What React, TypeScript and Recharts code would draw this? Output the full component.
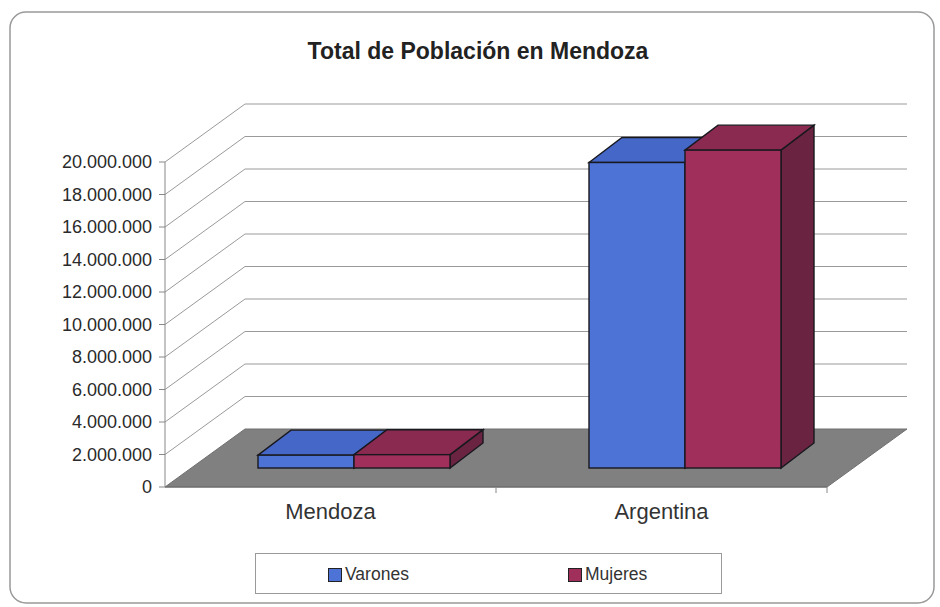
import React from 'react';
import { BarChart, Bar, XAxis, YAxis, CartesianGrid } from 'recharts';

const categories = ['Mendoza', 'Argentina'];
const varones = [790000, 18800000];
const mujeres = [820000, 19560000];
const seriesNames = ['Varones', 'Mujeres'];
const yTicks = [0, 2000000, 4000000, 6000000, 8000000, 10000000, 12000000, 14000000, 16000000, 18000000, 20000000];

const data = categories.map((name, i) => ({ name, varones: varones[i], mujeres: mujeres[i] }));

const W = 940;
const H = 607;
const PLOT_LEFT = 165;
const PLOT_RIGHT = 827;
const PLOT_TOP = 162;
const PLOT_BOTTOM = 487;
const Y_AXIS_W = 110;
const X_AXIS_H = 40;
const BAND = (PLOT_RIGHT - PLOT_LEFT) / categories.length;

// oblique depth of the walls
const WALL_DX = 80;
const WALL_DY = -58;
// bars sit partway back on the floor
const BAR_SX = 23;
const BAR_SY = -19;
const BAR_DX = 33;
const BAR_DY = -25;

const FONT = '"Liberation Sans", Arial, Helvetica, sans-serif';

const colors = {
  varones: { front: '#4d73d6', top: '#4467c8', side: '#3a57a8' },
  mujeres: { front: '#a02f5c', top: '#8a2a50', side: '#6a2442' },
};

const fmt = (v: number) => String(v).replace(/\B(?=(\d{3})+(?!\d))/g, '.');

function WallLine(props: any) {
  const { x1, x2, y1 } = props;
  const y = y1;
  if (Math.abs(y - PLOT_BOTTOM) < 1) {
    // floor
    return (
      <polygon
        points={`${x1},${y} ${x1 + WALL_DX},${y + WALL_DY} ${x2 + WALL_DX},${y + WALL_DY} ${x2},${y}`}
        fill="#808080"
        stroke="#707070"
        strokeWidth={1}
      />
    );
  }
  return (
    <g>
      <line x1={x1} y1={y} x2={x1 + WALL_DX} y2={y + WALL_DY} stroke="#9a9a9a" strokeWidth={1} />
      <line x1={x1 + WALL_DX} y1={y + WALL_DY} x2={x2 + WALL_DX} y2={y + WALL_DY} stroke="#9a9a9a" strokeWidth={1} />
    </g>
  );
}

const makeBox = (c: { front: string; top: string; side: string }) => (props: any) => {
  const { x, y, width, height } = props;
  if (width == null || height == null) return null;
  const fx = x + BAR_SX;
  const fy = y + BAR_SY;
  const stroke = '#18181f';
  return (
    <g>
      <polygon
        points={`${fx + width},${fy} ${fx + width + BAR_DX},${fy + BAR_DY} ${fx + width + BAR_DX},${fy + height + BAR_DY} ${fx + width},${fy + height}`}
        fill={c.side}
        stroke={stroke}
        strokeWidth={1.4}
      />
      <polygon
        points={`${fx},${fy} ${fx + BAR_DX},${fy + BAR_DY} ${fx + width + BAR_DX},${fy + BAR_DY} ${fx + width},${fy}`}
        fill={c.top}
        stroke={stroke}
        strokeWidth={1.4}
      />
      <rect x={fx} y={fy} width={width} height={height} fill={c.front} stroke={stroke} strokeWidth={1.4} />
    </g>
  );
};

function CategoryTick(props: any) {
  const { x, y, payload } = props;
  return (
    <g>
      <line x1={x + BAND / 2} y1={y} x2={x + BAND / 2} y2={y + 6} stroke="#888" />
      <text x={x} y={y + 32} textAnchor="middle" fontSize={22} fill="#333" fontFamily={FONT}>
        {payload.value}
      </text>
    </g>
  );
}

function LegendBox() {
  const items = [
    { name: seriesNames[0], color: colors.varones.front },
    { name: seriesNames[1], color: colors.mujeres.front },
  ];
  return (
    <div
      style={{
        position: 'absolute',
        left: 255,
        top: 553,
        width: 465,
        height: 39,
        border: '1px solid #9a9a9a',
        fontFamily: FONT,
        fontSize: 17.5,
        color: '#333',
      }}
    >
      {items.map((it, i) => (
        <div
          key={it.name}
          style={{ position: 'absolute', left: i === 0 ? 72 : 312, top: 10, display: 'flex', alignItems: 'center' }}
        >
          <span
            style={{
              display: 'inline-block',
              width: 12,
              height: 12,
              background: it.color,
              border: '1px solid #222',
              marginRight: 3,
            }}
          />
          <span>{it.name}</span>
        </div>
      ))}
    </div>
  );
}

export default function App() {
  return (
    <div style={{ position: 'absolute', left: 0, top: 0, width: W, height: H, background: '#fff' }}>
      <svg width={W} height={H} style={{ position: 'absolute', left: 0, top: 0 }}>
        <rect x={10} y={12} width={924} height={591} rx={16} fill="#fff" stroke="#999" strokeWidth={1.5} />
      </svg>
      <div
        style={{
          position: 'absolute',
          left: 0,
          width: 956,
          top: 40,
          textAlign: 'center',
          fontFamily: FONT,
          fontWeight: 'bold',
          fontSize: 23,
          lineHeight: 1,
          color: '#222',
        }}
      >
        Total de Población en Mendoza
      </div>
      <div style={{ position: 'absolute', left: 0, top: 0 }}>
        <BarChart
          width={W}
          height={H}
          data={data}
          barGap={0}
          barCategoryGap={70}
          margin={{ top: PLOT_TOP, right: W - PLOT_RIGHT, bottom: H - PLOT_BOTTOM - X_AXIS_H, left: PLOT_LEFT - Y_AXIS_W }}
        >
          <CartesianGrid vertical={false} horizontal={WallLine} />
          <XAxis
            dataKey="name"
            height={X_AXIS_H}
            tickLine={false}
            tickSize={0}
            tickMargin={0}
            axisLine={{ stroke: '#6a6a6a' }}
            tick={CategoryTick}
          />
          <YAxis
            width={Y_AXIS_W}
            domain={[0, 20000000]}
            ticks={yTicks}
            tickFormatter={fmt}
            tickSize={6}
            tickMargin={7}
            axisLine={{ stroke: '#888' }}
            tickLine={{ stroke: '#888' }}
            tick={{ fontSize: 18, fill: '#2a2a2a', fontFamily: FONT }}
            interval={0}
          />
          <Bar dataKey="varones" name={seriesNames[0]} isAnimationActive={false} shape={makeBox(colors.varones)} />
          <Bar dataKey="mujeres" name={seriesNames[1]} isAnimationActive={false} shape={makeBox(colors.mujeres)} />
        </BarChart>
      </div>
      <LegendBox />
    </div>
  );
}
